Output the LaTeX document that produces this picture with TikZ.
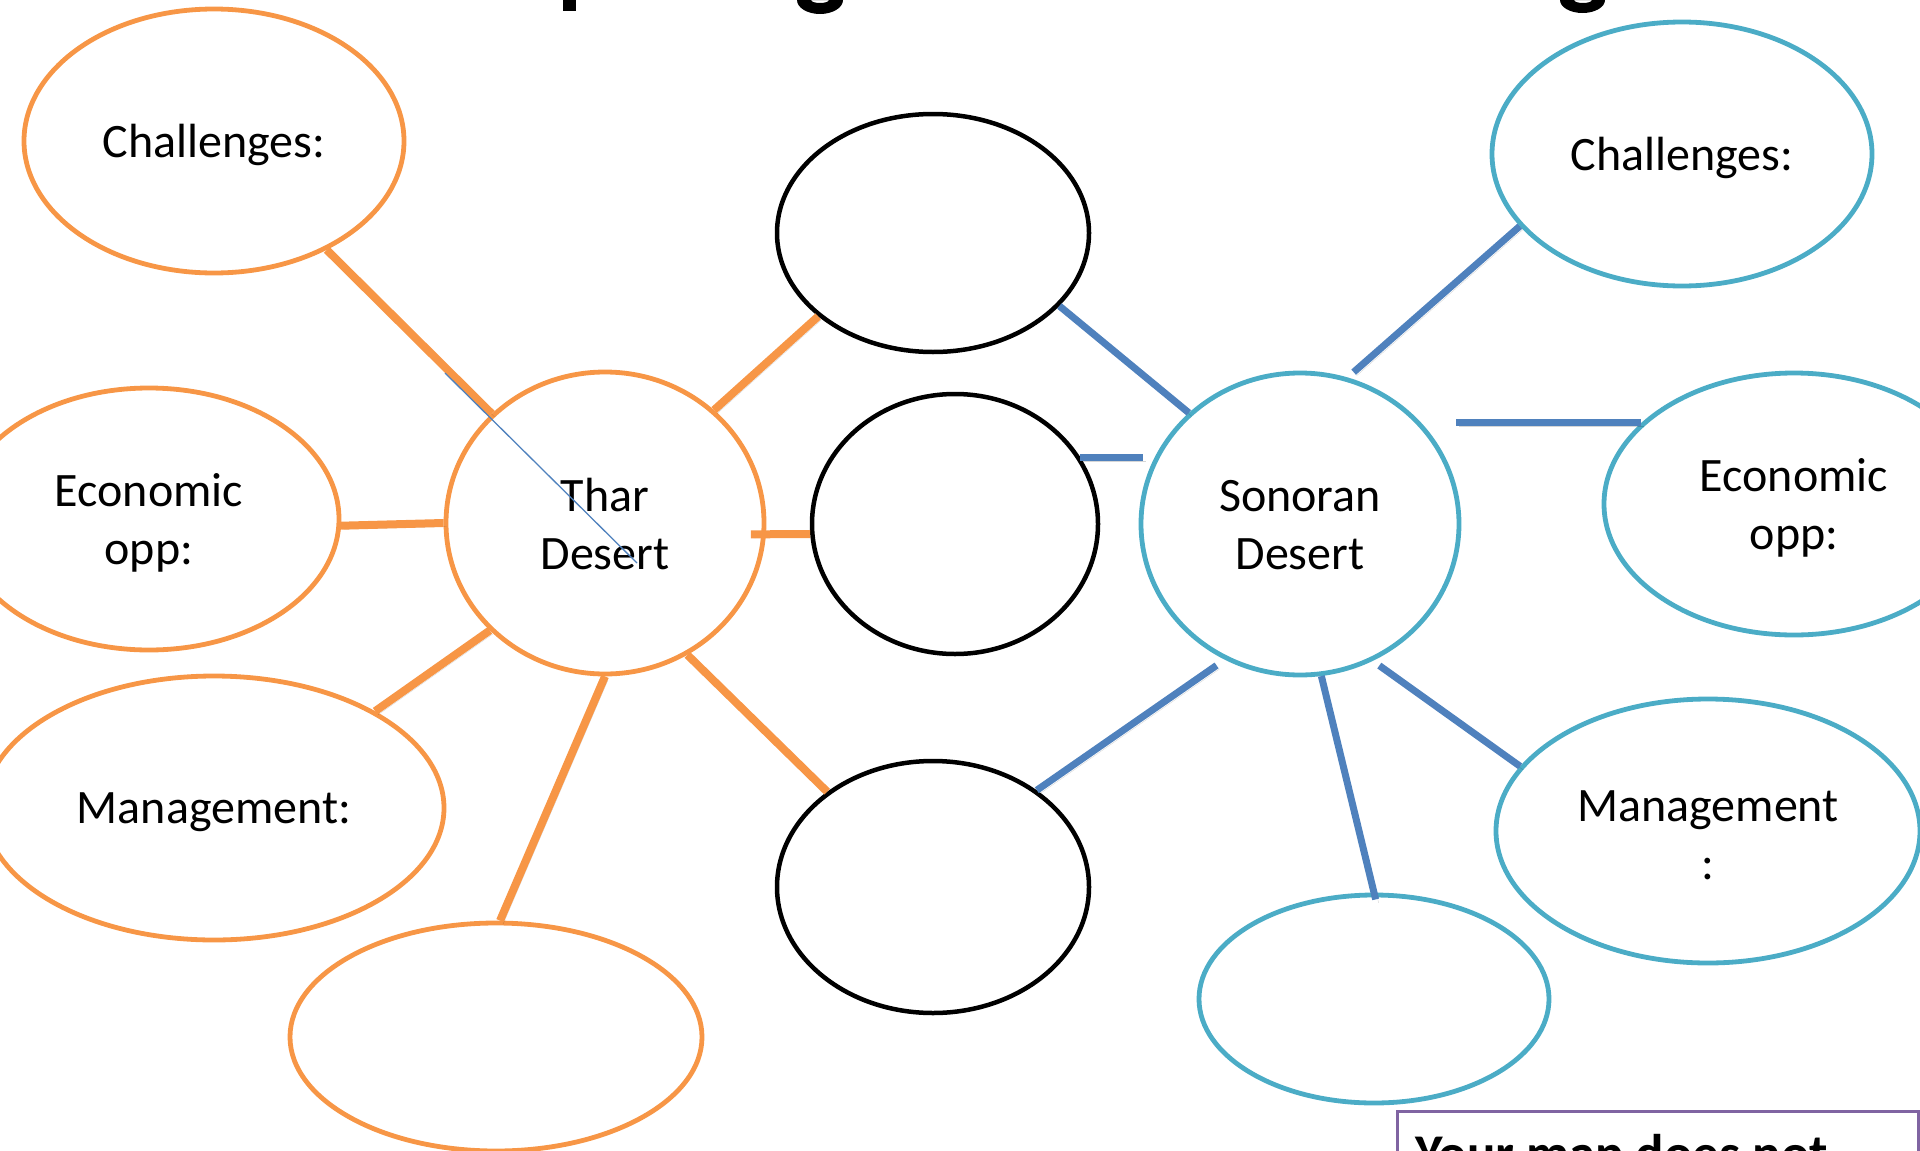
\documentclass[tikz,border=0pt]{standalone}
\usepackage{fontspec}
\setmainfont{Carlito}
\usetikzlibrary{shapes.geometric}
\definecolor{orng}{HTML}{F79646}
\definecolor{teal}{HTML}{4BACC6}
\definecolor{blu}{HTML}{4F81BD}
\definecolor{purp}{HTML}{8064A2}
\begin{document}
\begin{tikzpicture}[x=1pt,y=-1pt,
  bub/.style={ellipse, line width=4.8pt, inner sep=0pt},
  obub/.style={bub, draw=orng},
  tbub/.style={bub, draw=teal},
  kbub/.style={bub, draw=black, line width=4.5pt},
  txt/.style={inner sep=0pt, align=center, yshift=-4pt, font=\fontsize{48}{58}\selectfont},
  shad/.style={preaction={draw=black, opacity=0.16, transform canvas={shift={(3pt,-3.5pt)}}}},
  oline/.style={draw=orng, line width=8pt, shad},
  bline/.style={draw=blu, line width=7pt, shad}]
\useasboundingbox (0,0) rectangle (1920,1151);
\clip (0,0) rectangle (1920,1151);

% title fragments (cut off at the top)
\fill (563,0) rectangle (576,11);
\fill[even odd rule] (797,0) arc[start angle=180,end angle=360,x radius=23,y radius=-14] -- cycle
  (811,0) arc[start angle=180,end angle=360,x radius=9,y radius=-3] -- cycle;
\fill[even odd rule] (1560,0) arc[start angle=180,end angle=360,x radius=22.5,y radius=-13] -- cycle
  (1574,0) arc[start angle=180,end angle=360,x radius=9,y radius=-3] -- cycle;

% left (Thar) side
\node[obub, minimum width=380pt, minimum height=264pt] (c1) at (214,141) {};
\node[obub, minimum width=380pt, minimum height=262pt] (e1) at (149,519) {};
\node[obub, minimum width=460pt, minimum height=264pt] (m1) at (214,808) {};
\node[obub, minimum width=412pt, minimum height=228pt] (b1) at (496,1037) {};
\node[obub, minimum width=318pt, minimum height=302pt] (t) at (605,523) {};

% middle
\node[kbub, minimum width=312pt, minimum height=238pt] (mt) at (933,233) {};
\node[kbub, minimum width=286pt, minimum height=260pt] (mm) at (955,524) {};
\node[kbub, minimum width=312pt, minimum height=252pt] (mb) at (933,887) {};

% right (Sonoran) side
\node[tbub, minimum width=318pt, minimum height=302pt] (s) at (1300,524) {};
\node[tbub, minimum width=380pt, minimum height=264pt] (c2) at (1682,154) {};
\node[tbub, minimum width=380pt, minimum height=262pt] (e2) at (1794,504) {};
\node[tbub, minimum width=424pt, minimum height=264pt] (m2) at (1708,831) {};
\node[tbub, minimum width=350pt, minimum height=208pt] (b2) at (1374,999) {};

% texts
\node[txt] (c1t) at (c1.center) {Challenges:};
\node[txt] (e1t) at (e1.center) {Economic\\opp:};
\node[txt] (m1t) at (m1.center) {Management:};
\node[txt, yshift=3pt] (tt) at (t.center) {Thar\\Desert};
\node[txt, yshift=3pt] (st) at (s.center) {Sonoran\\Desert};
\node[txt] (c2t) at (c2.center) {Challenges:};
\node[txt] (e2t) at (e2.center) {Economic\\opp:};
\node[txt] (m2t) at (m2.center) {Management\\:};

% orange connectors
\draw[oline] (c1.-44) -- (t.136.3);
\draw[oline] (e1.-2) -- (t.180);
\draw[oline] (m1.31.2) -- (t.223.5);
\draw[oline] (b1.88) -- (t.270);
\draw[oline] (t.46) -- (mt.216.3);
\draw[oline, shorten <=-15pt] (t.-4) -- (mm.184.4);
\draw[oline] (t.-58.4) -- (mb.138.2);

% thin stray line
\coordinate (th1) at (445,373);
\coordinate (th2) at (637,563);
\draw[blu, line width=1.3pt] (th1) -- (th2);

% blue connectors
\draw[bline] (mt.-30.7) -- (s.135.8);
\draw[bline] (mm.28.9) -- ++(63,0) coordinate (mmend);
\draw[bline, shorten >=10pt] (mb.43.3) -- (s.241.1);
\draw[bline, shorten <=8pt] (s.72.6) -- (c2.204.7);
\draw[bline] (e2.152.4) -- ++(-185,0) coordinate (e2end);
\draw[bline, shorten <=8pt] (s.-62.2) -- (m2.161.7);
\draw[bline, shorten >=-7pt] (s.-82.5) -- (b2.90);

% note box (cut off at the bottom)
\node[draw=purp, line width=3pt, fill=white, anchor=north west, minimum width=521pt,
  minimum height=120pt, inner sep=0pt] (box) at (1396,1110) {};
\node[anchor=base west, inner sep=0pt, font=\fontsize{53}{64}\selectfont\bfseries] (boxtxt)
  at (1415,1171) {Your map does not};
\end{tikzpicture}
\end{document}
